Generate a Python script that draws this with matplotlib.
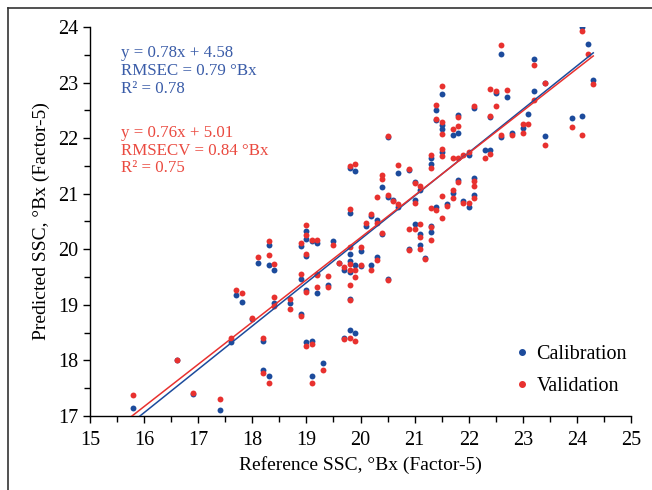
import numpy as np
import matplotlib
matplotlib.use("Agg")
import matplotlib.pyplot as plt
from matplotlib.lines import Line2D

plt.rcParams['font.family'] = ['Liberation Serif', 'DejaVu Serif']

# calibration points (reference SSC, predicted SSC)
cal_x = [15.8, 16.6, 16.9, 17.4, 17.6, 17.7, 17.8, 18.0, 18.1, 18.2, 18.2,
         18.3, 18.3, 18.3, 18.4, 18.4, 18.7, 18.9, 18.9, 18.9,
         19.0, 19.0, 19.0, 19.0, 19.0, 19.1, 19.1, 19.1, 19.2, 19.2, 19.2,
         19.3, 19.4, 19.5, 19.6, 19.7, 19.7,
         19.8, 19.8, 19.8, 19.8, 19.8, 19.8, 19.8, 19.9, 19.9, 19.9,
         20.0, 20.0, 20.1, 20.2, 20.2, 20.3, 20.3, 20.4, 20.4,
         20.5, 20.5, 20.5, 20.6, 20.7, 20.7, 20.9, 20.9,
         21.0, 21.0, 21.0, 21.1, 21.1, 21.1, 21.2,
         21.3, 21.3, 21.3, 21.3, 21.4, 21.4, 21.4, 21.5, 21.5, 21.5, 21.5,
         21.6, 21.7, 21.7, 21.8, 21.8, 21.8, 21.9, 22.0, 22.0,
         22.1, 22.1, 22.1, 22.3, 22.4, 22.4, 22.5, 22.6, 22.6, 22.7, 22.8,
         23.0, 23.1, 23.2, 23.2, 23.4, 23.4, 23.9, 24.1, 24.1, 24.2, 24.3]
cal_y = [17.14, 18.00, 17.39, 17.10, 18.34, 19.17, 19.06, 18.74, 19.75, 18.35, 17.83,
         20.07, 19.71, 17.72, 19.63, 19.04, 19.03, 20.05, 19.46, 18.83,
         20.32, 20.19, 19.88, 19.26, 18.34, 20.15, 18.35, 17.72, 20.11, 19.55, 19.22,
         17.95, 19.36, 20.14, 19.75, 19.62, 18.40,
         21.47, 20.65, 19.91, 19.78, 19.59, 19.11, 18.54, 21.41, 19.71, 18.50,
         19.97, 19.70, 20.42, 20.60, 19.71, 20.52, 19.86, 21.12, 20.27,
         22.02, 20.94, 19.46, 20.88, 21.38, 20.76, 21.42, 20.01,
         21.21, 20.89, 20.46, 21.07, 20.28, 20.08, 19.85,
         21.65, 21.53, 20.42, 20.31, 22.51, 22.32, 20.76, 22.80, 22.23, 22.17, 21.75,
         20.82, 22.06, 21.01, 22.41, 22.09, 21.25, 20.86, 21.69, 20.76,
         22.55, 21.29, 20.97, 21.78, 22.38, 21.78, 22.81, 23.52, 22.02, 22.74, 22.09,
         22.19, 22.44, 23.43, 22.84, 22.03, 22.99, 22.37, 24.00, 22.40, 23.70, 23.04]

# validation points
val_x = [15.8, 16.6, 16.9, 17.4, 17.6, 17.7, 17.8, 18.0, 18.1, 18.2, 18.2,
         18.3, 18.3, 18.3, 18.4, 18.4, 18.4, 18.7, 18.7, 18.9, 18.9, 18.9,
         19.0, 19.0, 19.0, 19.0, 19.0, 19.1, 19.1, 19.1, 19.2, 19.2, 19.2,
         19.3, 19.4, 19.4, 19.5, 19.6, 19.7, 19.7,
         19.8, 19.8, 19.8, 19.8, 19.8, 19.8, 19.8, 19.8, 19.9, 19.9, 19.9, 19.9,
         20.0, 20.0, 20.1, 20.2, 20.2, 20.3, 20.3, 20.3, 20.4, 20.4, 20.4,
         20.5, 20.5, 20.5, 20.6, 20.7, 20.7, 20.9, 20.9, 20.9,
         21.0, 21.0, 21.0, 21.1, 21.1, 21.1, 21.1, 21.2,
         21.3, 21.3, 21.3, 21.3, 21.3, 21.4, 21.4, 21.4,
         21.5, 21.5, 21.5, 21.5, 21.5, 21.5, 21.5, 21.6,
         21.7, 21.7, 21.7, 21.7, 21.8, 21.8, 21.8, 21.8, 21.9, 21.9, 22.0, 22.0,
         22.1, 22.1, 22.1, 22.1, 22.3, 22.4, 22.4, 22.4, 22.5, 22.5, 22.6, 22.6,
         22.7, 22.8, 23.0, 23.0, 23.1, 23.2, 23.2, 23.4, 23.4, 23.9, 24.1, 24.1, 24.2, 24.3]
val_y = [17.38, 18.00, 17.41, 17.30, 18.41, 19.26, 19.22, 18.76, 19.86, 18.41, 17.77,
         20.15, 19.89, 17.60, 19.74, 19.14, 18.98, 19.10, 18.92, 20.12, 19.56, 18.80,
         20.44, 20.25, 19.92, 19.23, 18.26, 20.17, 18.29, 17.59, 20.17, 19.53, 19.33,
         17.83, 19.52, 19.33, 20.08, 19.75, 19.68, 18.38,
         21.50, 20.72, 20.04, 19.74, 19.63, 19.35, 19.08, 18.41, 21.53, 19.63, 19.51, 18.35,
         20.04, 19.71, 20.47, 20.64, 19.63, 20.94, 20.47, 19.81, 21.33, 21.27, 20.29,
         22.04, 20.98, 19.45, 20.86, 21.51, 20.82, 21.45, 20.37, 19.98,
         21.19, 20.84, 20.37, 21.13, 20.46, 20.22, 20.00, 19.83,
         21.69, 21.47, 20.74, 20.40, 20.16, 22.60, 22.35, 20.71,
         22.93, 22.29, 22.08, 21.80, 21.68, 20.96, 20.56, 20.77,
         22.17, 21.65, 21.07, 20.93, 22.38, 22.22, 21.65, 21.21, 21.69, 20.84, 21.75, 20.83,
         22.57, 21.23, 21.13, 20.92, 21.65, 22.88, 22.40, 21.72, 22.85, 22.57, 23.67, 22.05,
         22.87, 22.05, 22.25, 22.09, 22.25, 23.32, 22.69, 22.99, 21.87, 22.20, 23.93, 22.05, 23.51, 22.97]

# fitted lines
cal_fit = (0.78, 4.58)
val_fit = (0.76, 5.01)
fit_x = np.array([15.7, 24.3])

blue = '#1c4b9c'
red = '#e8312f'
blue_txt = '#3a5ca8'
red_txt = '#ea4a40'

fig = plt.figure(figsize=(6.52, 4.90), dpi=100)
ax = fig.add_axes([0.138, 0.151, 0.830, 0.794])

ax.scatter(cal_x, cal_y, s=18, color=blue, zorder=3, linewidths=0)
ax.scatter(val_x, val_y, s=18, color=red, zorder=4, linewidths=0)
ax.plot(fit_x, cal_fit[0] * fit_x + cal_fit[1], color=blue, lw=1.1, zorder=5)
ax.plot(fit_x, val_fit[0] * fit_x + val_fit[1], color=red, lw=1.1, zorder=5)

ax.set_xlim(15, 25)
ax.set_ylim(17, 24)
ax.set_xticks(np.arange(15, 26, 1))
ax.set_yticks(np.arange(17, 25, 1))
ax.set_xticks(np.arange(15.5, 25, 1), minor=True)
ax.set_yticks(np.arange(17.5, 24, 1), minor=True)
ax.tick_params(which='major', direction='out', length=5, width=1, labelsize=14.5, colors='black')
ax.tick_params(which='minor', direction='out', length=4, width=1)
ax.tick_params(axis='x', pad=6)
ax.spines['top'].set_visible(False)
ax.spines['right'].set_visible(False)
for s in ['left', 'bottom']:
    ax.spines[s].set_linewidth(1)

ax.set_xlabel("Reference SSC, °Bx (Factor-5)", fontsize=14, labelpad=4)
ax.set_ylabel("Predicted SSC, °Bx (Factor-5)", fontsize=14, labelpad=6)

ax.text(15.58, 23.67, "y = 0.78x + 4.58\nRMSEC = 0.79 °Bx\nR² = 0.78",
        color=blue_txt, fontsize=12.2, va='top', ha='left', linespacing=1.15)
ax.text(15.58, 22.24, "y = 0.76x + 5.01\nRMSECV = 0.84 °Bx\nR² = 0.75",
        color=red_txt, fontsize=12.2, va='top', ha='left', linespacing=1.15)

handles = [Line2D([], [], ls='', marker='o', ms=4, color=blue),
           Line2D([], [], ls='', marker='o', ms=4, color=red)]
ax.legend(handles, ['Calibration', 'Validation'], loc='lower right',
          bbox_to_anchor=(1.026, 0.006), frameon=False, fontsize=14.5,
          handlelength=0.6, handletextpad=0.4, labelspacing=0.62)

# frame around the figure (left and top edges visible)
fig.add_artist(Line2D([8 / 652, 8 / 652], [0, 1 - 8 / 490], color='#333333', lw=1.2))
fig.add_artist(Line2D([8 / 652, 1], [1 - 8 / 490, 1 - 8 / 490], color='#333333', lw=1.2))

fig.savefig("out.png", dpi=100)
